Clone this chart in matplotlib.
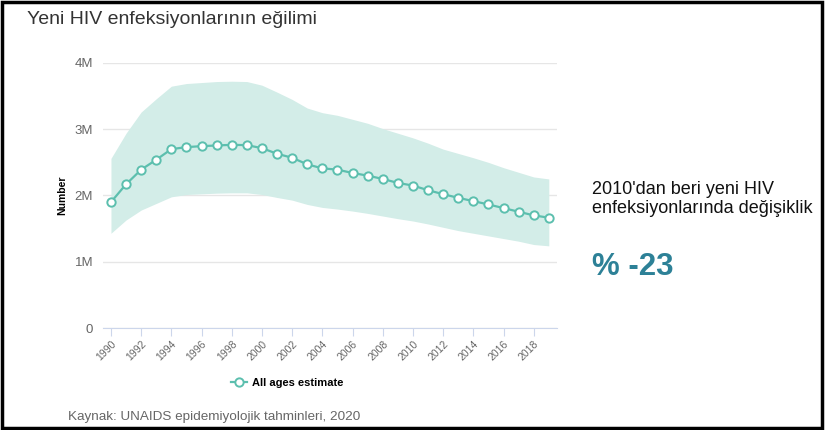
import matplotlib
import matplotlib.pyplot as plt
from matplotlib.patches import Rectangle
from matplotlib.lines import Line2D

plt.rcParams['font.family'] = ['Liberation Sans', 'DejaVu Sans']

# veriler (milyon)
yillar = list(range(1990, 2020))
tahmin = [1.90, 2.17, 2.39, 2.54, 2.70, 2.73, 2.745, 2.755, 2.765, 2.76,
          2.715, 2.63, 2.57, 2.47, 2.41, 2.39, 2.34, 2.30, 2.25, 2.19,
          2.15, 2.08, 2.02, 1.965, 1.915, 1.865, 1.81, 1.755, 1.70, 1.665]
ust_sinir = [2.56, 2.94, 3.26, 3.46, 3.65, 3.69, 3.705, 3.72, 3.725, 3.72,
             3.665, 3.56, 3.45, 3.32, 3.25, 3.21, 3.15, 3.09, 3.01, 2.94,
             2.87, 2.79, 2.70, 2.635, 2.57, 2.50, 2.42, 2.35, 2.28, 2.25]
alt_sinir = [1.43, 1.63, 1.78, 1.88, 1.98, 2.015, 2.025, 2.035, 2.04, 2.04,
             2.015, 1.97, 1.93, 1.865, 1.82, 1.795, 1.765, 1.73, 1.69, 1.65,
             1.615, 1.57, 1.52, 1.47, 1.43, 1.39, 1.35, 1.31, 1.26, 1.24]
y_etiketler = ['0', '1M', '2M', '3M', '4M']

renk = '#5cbfae'

fig = plt.figure(figsize=(8.25, 4.3), dpi=100)
ax = fig.add_axes([0.1248, 0.2372, 0.5503, 0.6163])

ax.fill_between(yillar, alt_sinir, ust_sinir, color='#d3ede8', lw=0)
ax.plot(yillar, tahmin, color=renk, lw=1.6, marker='o', markersize=6,
        markerfacecolor='white', markeredgecolor=renk, markeredgewidth=1.4)

ax.set_xlim(1989.47, 2019.54)
ax.set_ylim(0, 4)
ax.set_yticks(range(5))
ax.set_yticklabels(y_etiketler)
ax.set_xticks(yillar[::2])
ax.set_xticklabels([str(y) for y in yillar[::2]], rotation=45, ha='right',
                   rotation_mode='anchor', fontsize=7.5, color='#666666')
ax.tick_params(axis='y', length=0, labelsize=9.5, labelcolor='#666666', pad=7)
ax.tick_params(axis='x', length=6, color='#ccd6eb', pad=2)
ax.grid(axis='y', color='#e6e6e6', lw=1)
ax.set_axisbelow(True)
for s in ['top', 'right', 'left']:
    ax.spines[s].set_visible(False)
ax.spines['bottom'].set_color('#ccd6eb')
ax.set_ylabel('Number', fontsize=7.5, fontweight='bold', labelpad=5)

# legend
tutucu = Line2D([], [], color=renk, lw=1.6, marker='o', markersize=6,
                markerfacecolor='white', markeredgecolor=renk, markeredgewidth=1.4)
fig.legend([tutucu], ['All ages estimate'], loc='center',
           bbox_to_anchor=(287 / 825, 1 - 383 / 430), frameon=False,
           prop={'size': 8, 'weight': 'bold'}, handlelength=1.5, handletextpad=0.4)

# metinler
fig.text(27 / 825, 1 - 20 / 430, 'Yeni HIV enfeksiyonlarının eğilimi',
         fontsize=14, color='#333333', va='center')
fig.text(592 / 825, 1 - 199 / 430, "2010'dan beri yeni HIV\nenfeksiyonlarında değişiklik",
         fontsize=13, color='#111111', va='center', linespacing=1.2)
fig.text(592 / 825, 1 - 267 / 430, '% -23', fontsize=22.5, fontweight='bold',
         color='#2d8197', va='center')
fig.text(68 / 825, 1 - 417 / 430, 'Kaynak: UNAIDS epidemiyolojik tahminleri, 2020',
         fontsize=9.7, color='#666666', va='center')

# çerçeve
fig.patches.append(Rectangle((0.002, 0.004), 0.994, 0.992, transform=fig.transFigure,
                             fill=False, edgecolor='black', lw=2.5))

plt.savefig('out.png', dpi=100)
